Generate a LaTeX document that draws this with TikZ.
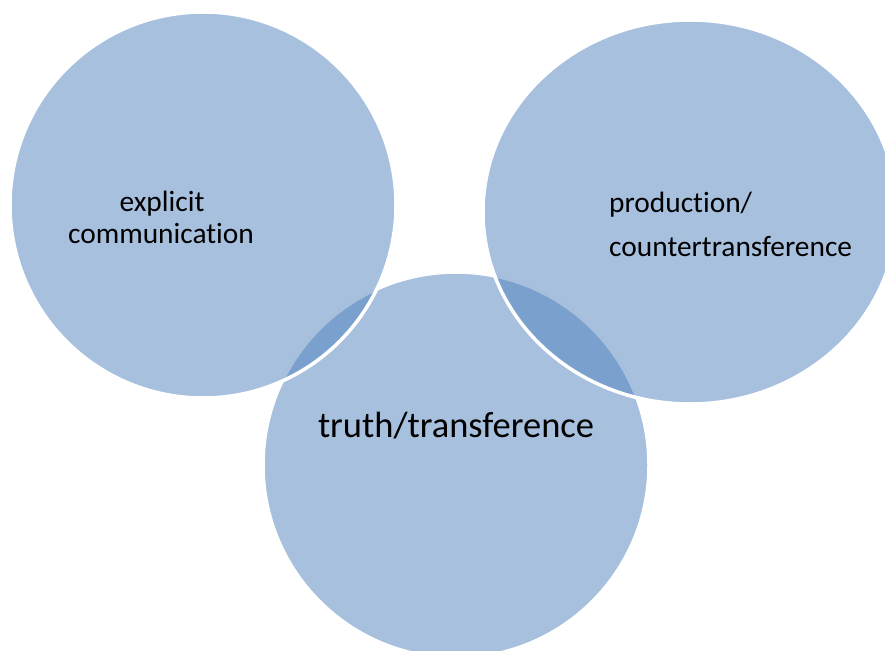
\documentclass[tikz,border=0pt]{standalone}
\usepackage{fontspec}
\setmainfont{Carlito}[Ligatures=NoCommon]
\usetikzlibrary{shapes.geometric}
\definecolor{accentblue}{RGB}{79,129,189}
\tikzset{
  venn/.style={fill=accentblue, fill opacity=0.5, draw=white, draw opacity=1,
    line width=3.5pt, inner sep=0pt, outer sep=0pt},
  label/.style={inner sep=0pt, text=black, font=\fontsize{29.4}{29.4}\selectfont},
  biglabel/.style={inner sep=0pt, text=black, font=\fontsize{36.5}{36.5}\selectfont}
}
\begin{document}
\begin{tikzpicture}[x=1pt,y=-1pt]
\useasboundingbox (0,0) rectangle (885,650);
\clip (0,0) rectangle (885,650);
% the three overlapping sets
\node[venn, circle, minimum size=386pt] (truth) at (456,465) {};
\node[venn, circle, minimum size=386pt] (explicit) at (203,205) {};
\node[venn, ellipse, minimum width=414pt, minimum height=384pt] (production) at (690,212) {};
% labels
\node[label, anchor=base] (l1a) at (162,211) {explicit};
\node[label, anchor=base] (l1b) at (161,243) {communication};
\node[label, anchor=base west] (l2a) at (609,212) {production/};
\node[label, anchor=base west] (l2b) at (609,256) {countertransference};
\node[biglabel, anchor=base] (l3) at (456,437) {truth/transference};
\end{tikzpicture}
\end{document}
